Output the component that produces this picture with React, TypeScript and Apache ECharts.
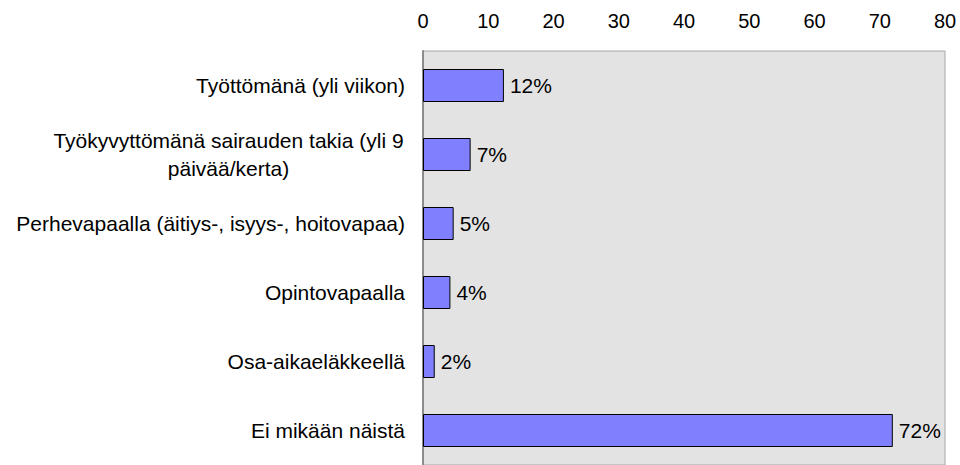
import React, { useEffect, useRef } from "react";
import * as echarts from "echarts";

const categories = [
  "Työttömänä (yli viikon)",
  "Työkyvyttömänä sairauden takia (yli 9\npäivää/kerta)",
  "Perhevapaalla (äitiys-, isyys-, hoitovapaa)",
  "Opintovapaalla",
  "Osa-aikaeläkkeellä",
  "Ei mikään näistä",
];
const values = [12.4, 7.3, 4.7, 4.2, 1.8, 72.0];
const xTicks = { min: 0, max: 80, interval: 10 };

export default function App() {
  const ref = useRef<HTMLDivElement>(null);
  useEffect(() => {
    if (!ref.current) return;
    const chart = echarts.init(ref.current, undefined, { renderer: "svg" });
    const font = "'Liberation Sans', Arial, sans-serif";
    chart.setOption({
      animation: false,
      backgroundColor: "#ffffff",
      grid: {
        left: 423,
        right: 15,
        top: 51,
        height: 417,
        show: true,
        backgroundColor: "#e3e3e3",
        borderColor: "#a6a6a6",
        borderWidth: 1,
      },
      xAxis: {
        type: "value",
        position: "top",
        min: xTicks.min,
        max: xTicks.max,
        interval: xTicks.interval,
        axisLine: { show: false },
        axisTick: { show: false },
        splitLine: { show: false },
        axisLabel: {
          color: "#000",
          fontFamily: font,
          fontSize: 20,
          margin: 20,
        },
      },
      yAxis: {
        type: "category",
        data: categories,
        inverse: true,
        axisLine: { show: true, lineStyle: { color: "#8c8c8c", width: 2 } },
        axisTick: { show: false },
        splitLine: { show: false },
        axisLabel: {
          color: "#000",
          fontFamily: font,
          fontSize: 21,
          margin: 18,
          formatter: (v: string) =>
            v.includes("\n")
              ? v
                  .split("\n")
                  .map((s) => "{c|" + s + "}")
                  .join("\n")
              : v,
          rich: {
            c: {
              width: 353,
              align: "center",
              fontSize: 21,
              fontFamily: font,
              color: "#000",
              lineHeight: 28,
            },
          },
        },
      },
      series: [
        {
          type: "bar",
          data: values,
          barWidth: 33,
          itemStyle: { color: "#8080ff", borderColor: "#000", borderWidth: 1 },
          label: {
            show: true,
            position: "right",
            distance: 6,
            color: "#000",
            fontFamily: font,
            fontSize: 21,
            formatter: (p: any) => Math.round(p.value) + "%",
          },
        },
      ],
    });
    return () => chart.dispose();
  }, []);
  return (
    <div
      ref={ref}
      style={{ position: "absolute", left: 0, top: 0, width: 960, height: 465 }}
    />
  );
}
